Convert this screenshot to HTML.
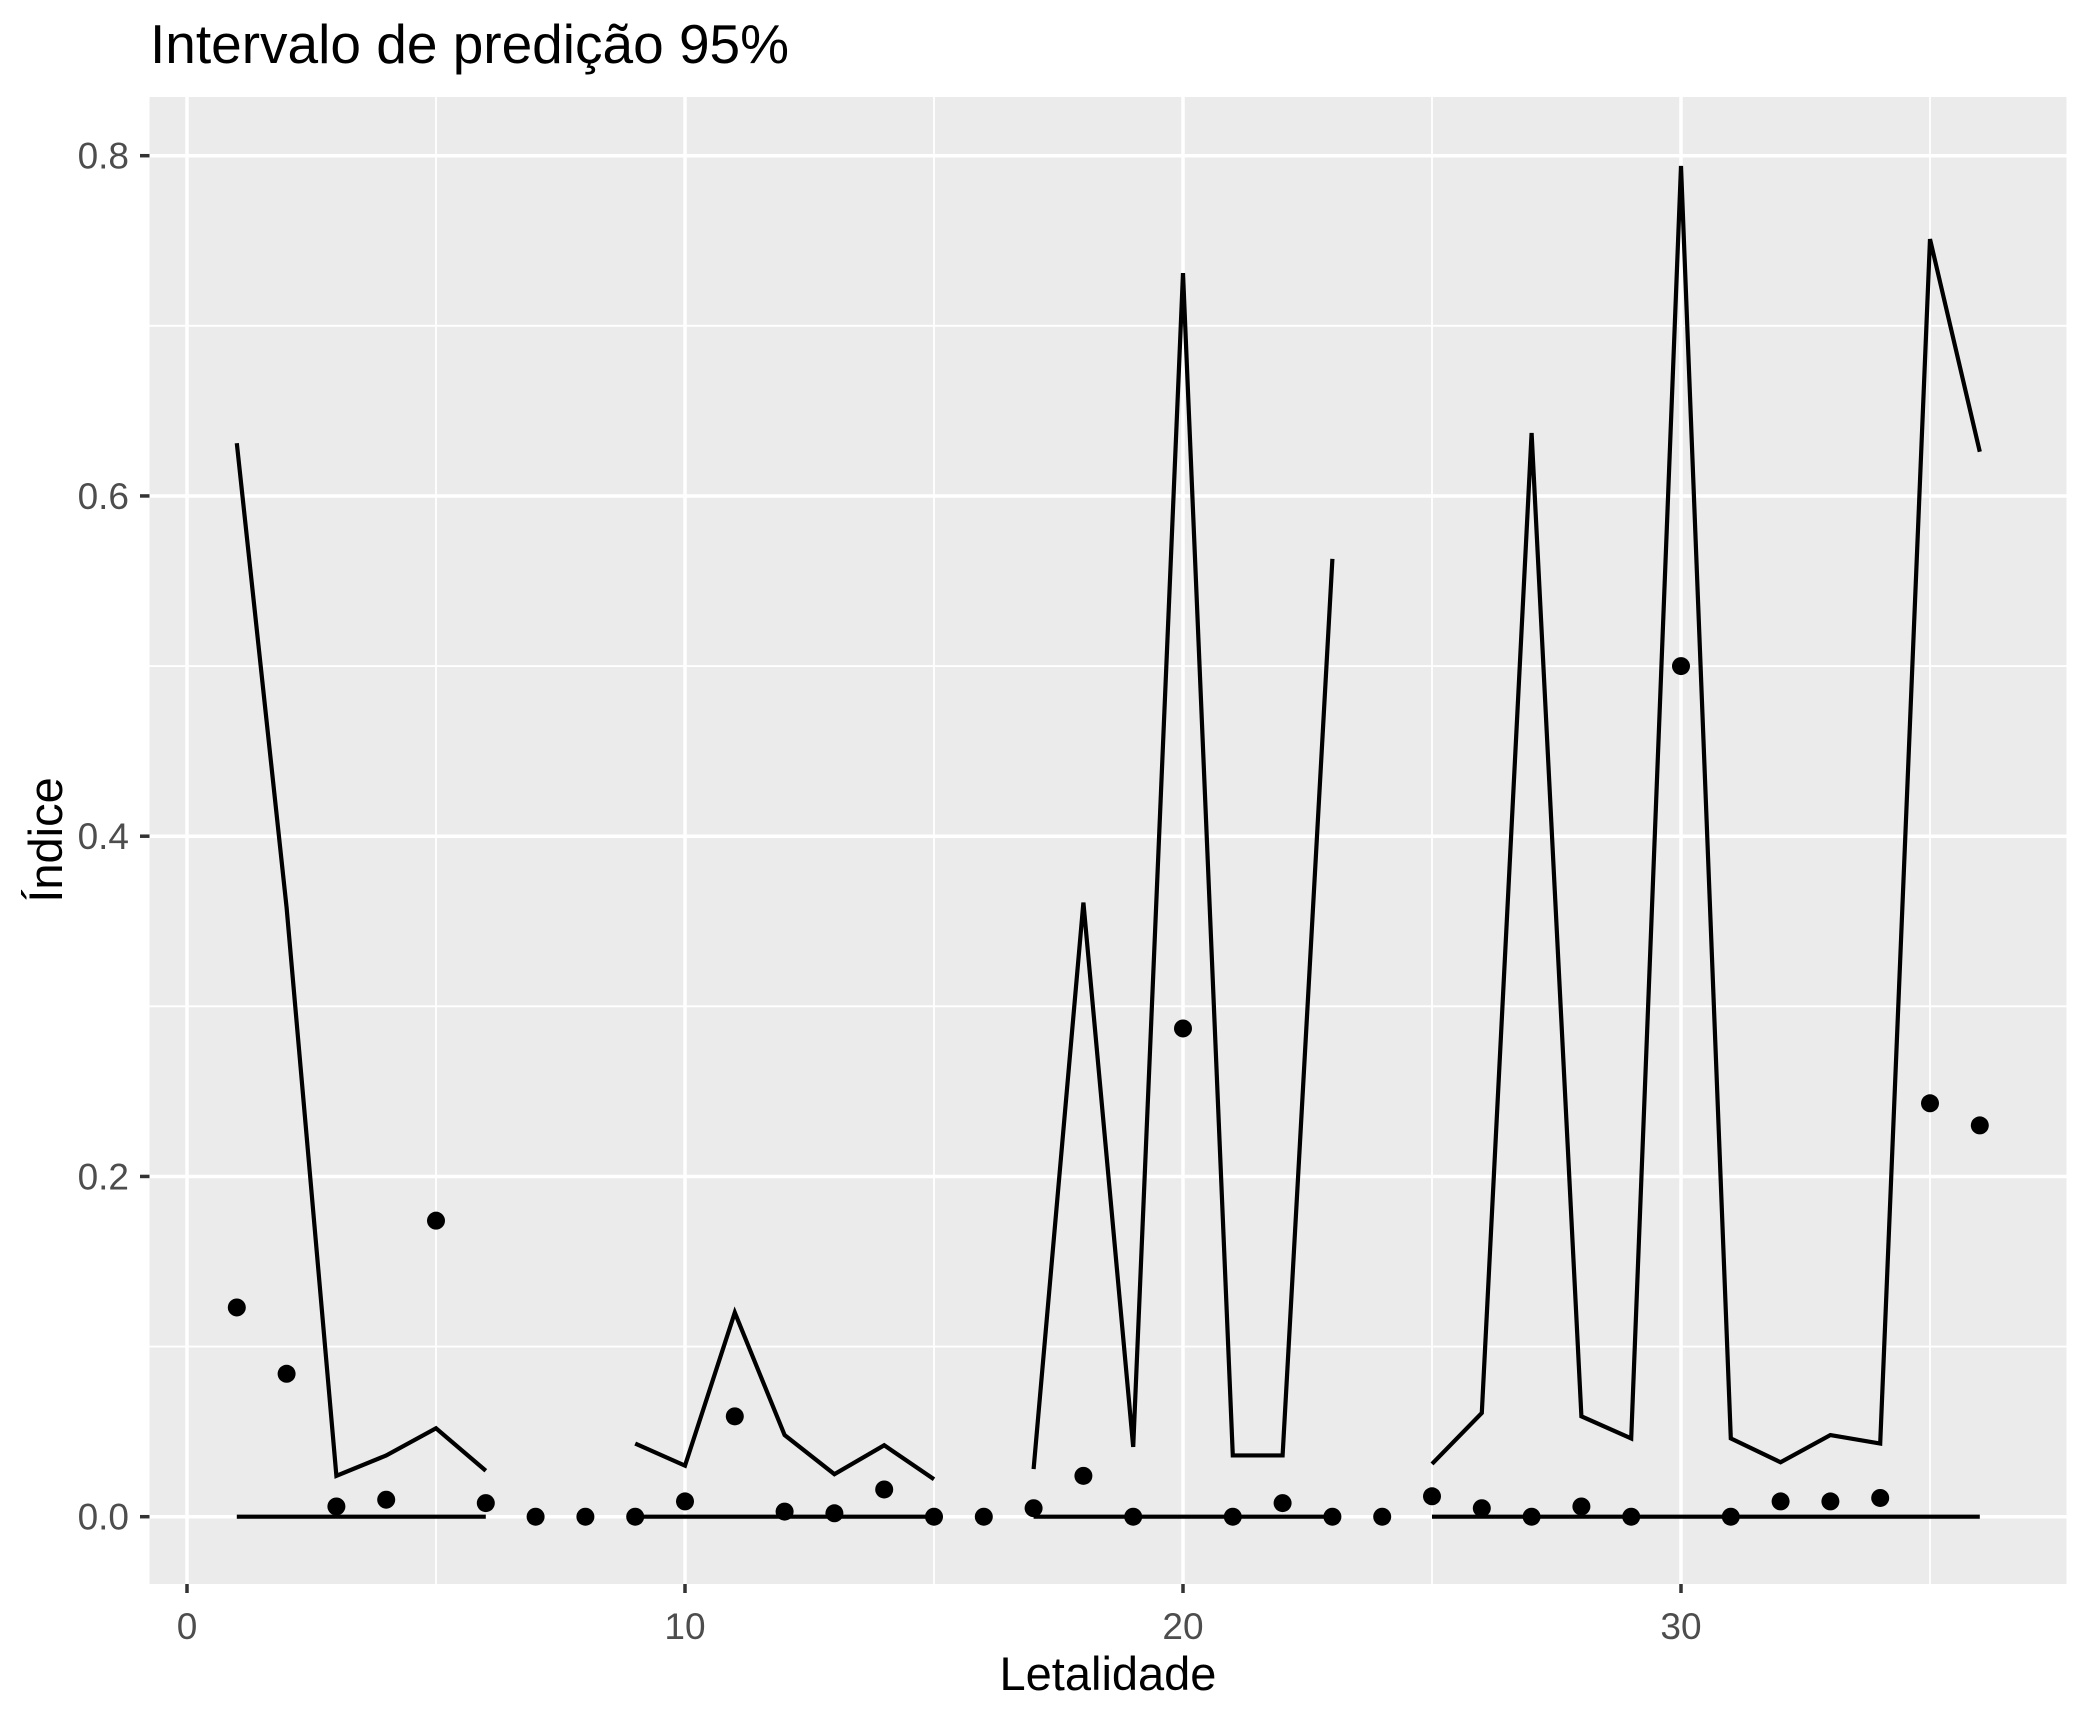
<!DOCTYPE html>
<html><head><meta charset="utf-8"><style>body{margin:0;background:#fff}svg{display:block;font-family:"Liberation Sans",sans-serif}</style></head>
<body>
<svg id="chart" width="2093" height="1718" viewBox="0 0 2093 1718" xmlns="http://www.w3.org/2000/svg">
<text x="150" y="63" font-size="55" fill="#000">Intervalo de predição 95%</text>
<rect x="149.5" y="97" width="1917" height="1487" fill="#ebebeb"/>
<g id="grid"></g><g id="marks"></g><g id="axes"></g>
<text x="1108" y="1690" font-size="47" text-anchor="middle" fill="#000">Letalidade</text>
<text transform="translate(62,840) rotate(-90)" font-size="47" text-anchor="middle" fill="#000">Índice</text>
</svg>
<script>
const xs = Array.from({length:36},(_,i)=>i+1);
const points = [0.123,0.084,0.006,0.010,0.174,0.008,0,0,0,0.009,0.059,0.003,0.002,0.016,0,0,0.005,0.024,0,0.287,0,0.008,0,0,0.012,0.005,0,0.006,0,0.500,0,0.009,0.009,0.011,0.243,0.230];
const upper = [0.631,0.358,0.024,0.036,0.052,0.027,null,null,0.043,0.030,0.120,0.048,0.025,0.042,0.022,null,0.028,0.361,0.041,0.731,0.036,0.036,0.563,null,0.031,0.061,0.637,0.059,0.046,0.794,0.046,0.032,0.048,0.043,0.751,0.626];
const lower = [0,0,0,0,0,0,null,null,0,0,0,0,0,0,0,null,0,0,0,0,0,0,0,null,0,0,0,0,0,0,0,0,0,0,0,0];
const xTicks = [0,10,20,30];
const yTicks = [0,0.2,0.4,0.6,0.8];
const xMinor = [5,15,25,35];
const yMinor = [0.1,0.3,0.5,0.7];
const X = v => 187 + v*49.8;
const Y = v => 1516.7 - v*1701.25;
const NS="http://www.w3.org/2000/svg";
function mk(tag,attrs,parent){const e=document.createElementNS(NS,tag);for(const k in attrs)e.setAttribute(k,attrs[k]);parent.appendChild(e);return e;}
const grid=document.getElementById('grid'),marks=document.getElementById('marks'),axes=document.getElementById('axes');
xMinor.forEach(v=>{const l=mk('line',{x1:X(v),x2:X(v),y1:97,y2:1584,stroke:'#fff','stroke-width':1.8},grid);

});
yMinor.forEach(v=>{const l=mk('line',{x1:149.5,x2:2066.5,y1:Y(v),y2:Y(v),stroke:'#fff','stroke-width':1.8},grid);

});
xTicks.forEach(v=>{const l=mk('line',{x1:X(v),x2:X(v),y1:97,y2:1584,stroke:'#fff','stroke-width':3.5},grid);


const t=mk('line',{x1:X(v),x2:X(v),y1:1584,y2:1593,stroke:'#333','stroke-width':3.5},axes);


const tx=mk('text',{x:X(v),y:1639,'font-size':37,'text-anchor':'middle',fill:'#4d4d4d'},axes);tx.textContent=v;

});
yTicks.forEach(v=>{const l=mk('line',{x1:149.5,x2:2066.5,y1:Y(v),y2:Y(v),stroke:'#fff','stroke-width':3.5},grid);


const t=mk('line',{x1:140,x2:149.5,y1:Y(v),y2:Y(v),stroke:'#333','stroke-width':3.5},axes);


const tx=mk('text',{x:129,y:Y(v)+13,'font-size':37,'text-anchor':'end',fill:'#4d4d4d'},axes);tx.textContent=v.toFixed(1);

});
function drawLine(arr,name){let d='',pen=false;arr.forEach((v,i)=>{if(v===null){pen=false;return;}d+=(pen?'L':'M')+X(xs[i])+' '+Y(v)+' ';pen=true;});
const p=mk('path',{d:d,fill:'none',stroke:'#000','stroke-width':4.2},marks);

}
drawLine(upper,'upper-bound-line');
drawLine(lower,'lower-bound-line');
points.forEach((v,i)=>{const c=mk('circle',{cx:X(xs[i]),cy:Y(v),r:9,fill:'#000'},marks);

});
</script>
</body></html>
